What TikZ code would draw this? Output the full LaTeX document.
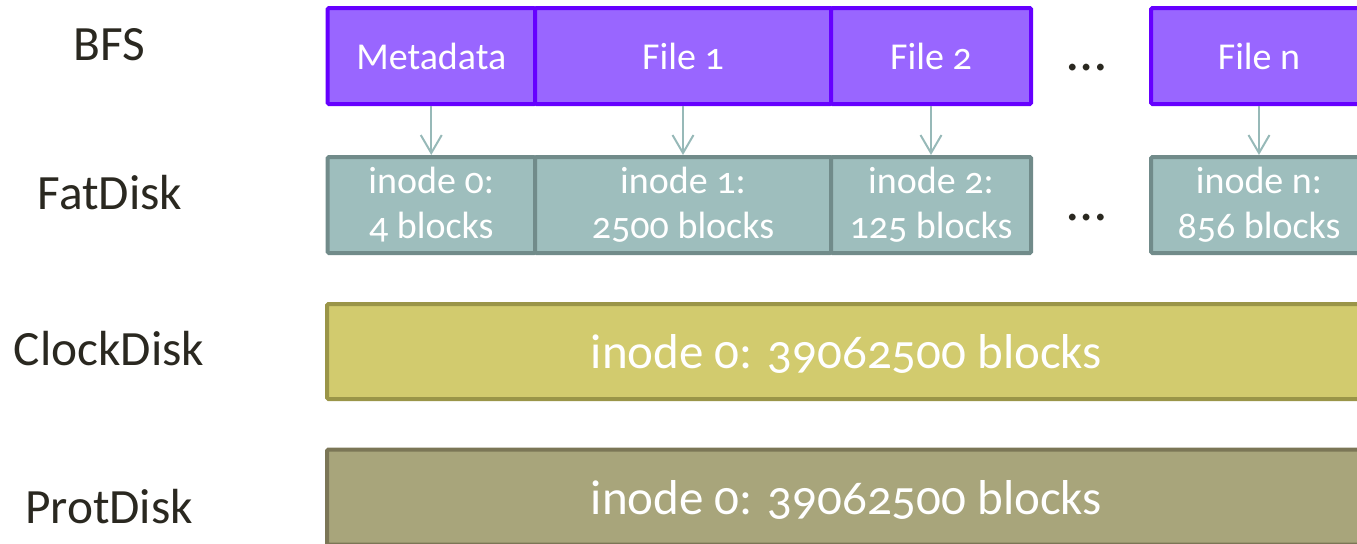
\documentclass[tikz,border=0pt]{standalone}
\usepackage{fontspec}
\setmainfont{Carlito}[Numbers=OldStyle]
\usetikzlibrary{arrows.meta}
\definecolor{bfsfill}{HTML}{9966FF}
\definecolor{bfsline}{HTML}{6600FF}
\definecolor{fatfill}{HTML}{9EBEBD}
\definecolor{fatline}{HTML}{718B8A}
\definecolor{arrcol}{HTML}{97B9B8}
\definecolor{clkfill}{HTML}{D2CB6E}
\definecolor{clkline}{HTML}{9A9548}
\definecolor{protfill}{HTML}{A8A57B}
\definecolor{protline}{HTML}{7B7656}
\definecolor{labcol}{HTML}{2A2820}
\begin{document}
\begin{tikzpicture}[x=0.75pt,y=-0.75pt,
  box/.style={draw, line width=3pt, rounded corners=1pt, text=white, inner sep=0pt,
    align=center, font=\fontsize{28.5}{33.75}\selectfont},
  bfsbox/.style={box, fill=bfsfill, draw=bfsline, minimum height=72pt},
  fatbox/.style={box, fill=fatfill, draw=fatline, minimum height=72pt},
  bigbox/.style={box, minimum width=779.25pt, minimum height=71.25pt, text depth=0pt,
    font=\fontsize{36.75}{44}\selectfont},
  rowlabel/.style={anchor=base, text=labcol, font=\fontsize{37}{44}\selectfont},
  dotsnode/.style={anchor=base, text=labcol, font=\fontsize{42}{50}\selectfont, inner sep=0pt},
  arr/.style={draw=arrcol, line width=1.5pt, -{Straight Barb[length=13.5pt,width=15.75pt]}}
]
\useasboundingbox (0,0) rectangle (1357,543);
\clip (0,0) rectangle (1357,543);

% row labels
\node[rowlabel] (lbfs) at (109.5,60) {BFS};
\node[rowlabel] (lfat) at (110,209) {FatDisk};
\node[rowlabel] (lclk) at (109,365) {ClockDisk};
\node[rowlabel] (lprot) at (109,523) {ProtDisk};

% BFS row
\node[bfsbox, minimum width=155.625pt] (meta) at (431.25,56) {Metadata};
\node[bfsbox, minimum width=222pt] (f1) at (683,56) {File 1};
\node[bfsbox, minimum width=150pt] (f2) at (931,56) {File 2};
\node[bfsbox, minimum width=162pt] (fn) at (1259,56) {File n};
\node[dotsnode] (dots1) at (1087,70) {…};

% FatDisk row
\node[fatbox, minimum width=155.625pt] (i0) at (431.25,205) {inode 0:\\4 blocks};
\node[fatbox, minimum width=222pt] (i1) at (683,205) {inode 1:\\2500 blocks};
\node[fatbox, minimum width=150pt] (i2) at (931,205) {inode 2:\\125 blocks};
\node[fatbox, minimum width=162pt] (in) at (1259,205) {inode n:\\856 blocks};
\node[dotsnode] (dots2) at (1087,220) {…};

% arrows
\draw[arr] (meta) -- (i0);
\draw[arr] (f1) -- (i1);
\draw[arr] (f2) -- (i2);
\draw[arr] (fn) -- (in);

% big disks
\node[bigbox, fill=clkfill, draw=clkline] (clk) at (846.5,351.5) {inode 0: 39062500 blocks};
\node[bigbox, fill=protfill, draw=protline] (prot) at (846.5,497) {inode 0: 39062500 blocks};
\end{tikzpicture}
\end{document}
